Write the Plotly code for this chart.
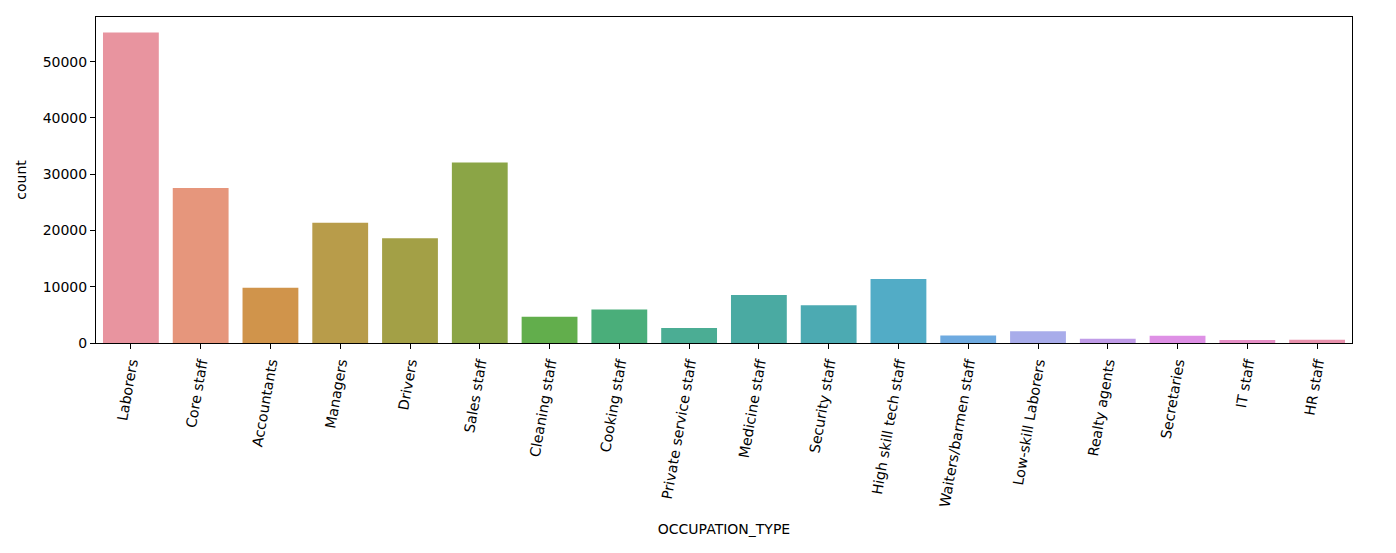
import plotly.graph_objects as go

occupations = [
    "Laborers", "Core staff", "Accountants", "Managers", "Drivers",
    "Sales staff", "Cleaning staff", "Cooking staff", "Private service staff",
    "Medicine staff", "Security staff", "High skill tech staff",
    "Waiters/barmen staff", "Low-skill Laborers", "Realty agents",
    "Secretaries", "IT staff", "HR staff",
]
counts = [
    55186, 27570, 9813, 21371, 18603,
    32102, 4653, 5946, 2652,
    8537, 6721, 11380,
    1348, 2093, 751,
    1305, 526, 563,
]
y_ticks = [0, 10000, 20000, 30000, 40000, 50000]

# seaborn husl palette, desaturated like countplot does
colors = [
    "#e8949f", "#e6967c", "#d0944b", "#b89c4a", "#a3a046", "#8ba546",
    "#62ae4c", "#4aae7a", "#4bad94", "#4aaaa2", "#4caab2", "#52acc6",
    "#6eaae0", "#a8acea", "#c09ce8", "#de90e5", "#e68fc6", "#e891ac",
]

fig = go.Figure()
fig.add_trace(go.Bar(
    x=occupations,
    y=counts,
    marker=dict(color=colors, line=dict(width=0)),
    hovertemplate="%{x}<br>%{y}<extra></extra>",
))

font = dict(family="DejaVu Sans", size=14, color="black")
tick_font = dict(family="DejaVu Sans", size=14.3, color="black")

fig.update_xaxes(
    range=[-0.5, len(occupations) - 0.5],
    tickangle=-80,
    ticks="outside", ticklen=5, tickwidth=1, tickcolor="black",
    showline=True, linecolor="black", linewidth=1, mirror=True,
    showgrid=False, zeroline=False,
    tickfont=tick_font,
    title=dict(text="OCCUPATION_TYPE", font=font, standoff=16),
    automargin=False,
)
fig.update_yaxes(
    range=[0, max(counts) * 1.05],
    tickvals=y_ticks,
    ticktext=[str(v) for v in y_ticks],
    ticks="outside", ticklen=5, tickwidth=1, tickcolor="black",
    showline=True, linecolor="black", linewidth=1, mirror=True,
    showgrid=False, zeroline=False,
    tickfont=font,
    title=dict(text="count", font=font, standoff=12),
    automargin=False,
)

# page body adds an 8px offset, so size the figure to fit inside the window
fig.update_layout(
    width=1388, height=545,
    bargap=0.2,
    showlegend=False,
    plot_bgcolor="white",
    paper_bgcolor="white",
    margin=dict(l=88, r=44, t=9, b=210),
    font=font,
)

fig.write_html("out.html")
